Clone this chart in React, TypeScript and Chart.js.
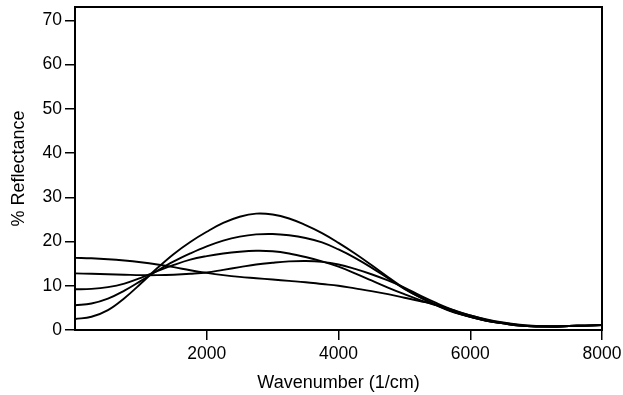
import React, { useEffect, useRef } from "react";
import { Chart, registerables } from "chart.js";

Chart.register(...registerables);

const wavenumbers = [
  0, 250, 500, 750, 1000, 1250, 1500, 1750, 2000, 2250, 2500, 2750, 3000, 3250, 3500, 3750,
  4000, 4250, 4500, 4750, 5000, 5250, 5500, 5750, 6000, 6250, 6500, 6750, 7000, 7250, 7500, 7750, 8000,
];

const seriesA = [
  2.5, 3.0, 4.5, 7.2, 10.5, 14.0, 17.2, 19.9, 22.2, 24.2, 25.6, 26.3, 26.1, 25.2, 23.7, 21.9,
  19.7, 17.3, 14.7, 12.0, 9.4, 7.3, 5.5, 4.0, 3.0, 2.1, 1.5, 1.0, 0.8, 0.8, 0.9, 1.0, 1.1,
];
const seriesB = [
  5.6, 6.0, 7.1, 8.9, 11.1, 13.4, 15.5, 17.3, 18.9, 20.2, 21.1, 21.6, 21.7, 21.4, 20.8, 19.8,
  18.2, 16.3, 14.1, 11.7, 9.3, 7.3, 5.6, 4.1, 3.0, 2.1, 1.5, 1.0, 0.8, 0.8, 0.9, 1.0, 1.1,
];
const seriesC = [
  9.2, 9.3, 9.7, 10.5, 11.8, 13.3, 14.7, 15.9, 16.7, 17.3, 17.7, 17.9, 17.8, 17.3, 16.5, 15.5,
  14.3, 12.8, 11.2, 9.6, 8.1, 6.7, 5.5, 4.1, 3.0, 2.1, 1.5, 1.0, 0.8, 0.8, 0.9, 1.0, 1.1,
];
const seriesD = [
  12.8, 12.7, 12.6, 12.5, 12.4, 12.4, 12.5, 12.7, 13.0, 13.6, 14.2, 14.8, 15.2, 15.5, 15.6, 15.4,
  14.8, 13.8, 12.6, 11.2, 9.6, 7.7, 6.0, 4.5, 3.3, 2.3, 1.6, 1.1, 0.9, 0.8, 0.9, 1.0, 1.1,
];
const seriesE = [
  16.3, 16.2, 16.0, 15.7, 15.3, 14.8, 14.2, 13.5, 12.9, 12.4, 12.0, 11.7, 11.4, 11.1, 10.8, 10.4,
  10.0, 9.4, 8.8, 8.1, 7.3, 6.5, 5.6, 4.4, 3.3, 2.4, 1.7, 1.2, 0.9, 0.8, 0.9, 1.0, 1.1,
];

const allSeries = [seriesA, seriesB, seriesC, seriesD, seriesE];

const xTicks = [2000, 4000, 6000, 8000];
const xTitle = "Wavenumber (1/cm)";
const yTitle = "% Reflectance";

const FONT = "'Liberation Sans', Arial, sans-serif";

const framePlugin = {
  id: "frame",
  afterDraw(chart: any) {
    const { ctx, chartArea } = chart;
    ctx.save();
    ctx.strokeStyle = "#000";
    ctx.lineWidth = 2;
    ctx.strokeRect(
      chartArea.left,
      chartArea.top,
      chartArea.right - chartArea.left,
      chartArea.bottom - chartArea.top
    );
    ctx.restore();
  },
};

export default function App() {
  const ref = useRef<HTMLCanvasElement | null>(null);

  useEffect(() => {
    if (!ref.current) return;
    const chart = new Chart(ref.current, {
      type: "line",
      data: {
        datasets: allSeries.map((s, i) => ({
          label: "S" + (i + 1),
          data: wavenumbers.map((w, j) => ({ x: w, y: s[j] })),
          borderColor: "#000",
          borderWidth: 1.9,
          pointRadius: 0,
          fill: false,
          tension: 0.4,
        })),
      },
      options: {
        responsive: false,
        animation: false,
        devicePixelRatio: 1,
        layout: { padding: { top: 7, right: 21, left: 0, bottom: 0 } },
        plugins: { legend: { display: false }, tooltip: { enabled: false } },
        scales: {
          x: {
            type: "linear",
            min: 0,
            max: 8000,
            afterBuildTicks: (scale: any) => {
              scale.ticks = xTicks.map((v) => ({ value: v }));
            },
            afterFit: (scale: any) => {
              scale.height = 65;
              scale.paddingLeft = 0;
              scale.paddingRight = 0;
            },
            grid: {
              drawOnChartArea: false,
              drawTicks: true,
              tickLength: 10,
              color: "#000",
              lineWidth: 1.5,
            },
            border: { display: false },
            ticks: {
              color: "#000",
              font: { family: FONT, size: 17.5 },
              padding: 4,
              maxRotation: 0,
              callback: (v: any) => String(v),
            },
            title: {
              display: true,
              text: xTitle,
              color: "#000",
              font: { family: FONT, size: 18 },
              padding: { top: 0, bottom: 1 },
            },
          },
          y: {
            type: "linear",
            min: 0,
            max: 73,
            afterFit: (scale: any) => {
              scale.width = 75;
              scale.paddingTop = 0;
              scale.paddingBottom = 0;
            },
            grid: {
              drawOnChartArea: false,
              drawTicks: true,
              tickLength: 10,
              color: "#000",
              lineWidth: 1.5,
            },
            border: { display: false },
            ticks: {
              stepSize: 10,
              includeBounds: false,
              color: "#000",
              font: { family: FONT, size: 17.5 },
              padding: 3,
              callback: (v: any) => String(v),
            },
            title: {
              display: true,
              text: yTitle,
              color: "#000",
              font: { family: FONT, size: 18 },
              padding: { top: 8, bottom: 0 },
            },
          },
        },
      },
      plugins: [framePlugin],
    });
    return () => chart.destroy();
  }, []);

  return (
    <div style={{ position: "absolute", left: 0, top: 0, width: 623, height: 395, background: "#fff" }}>
      <canvas ref={ref} width={623} height={395} />
    </div>
  );
}
